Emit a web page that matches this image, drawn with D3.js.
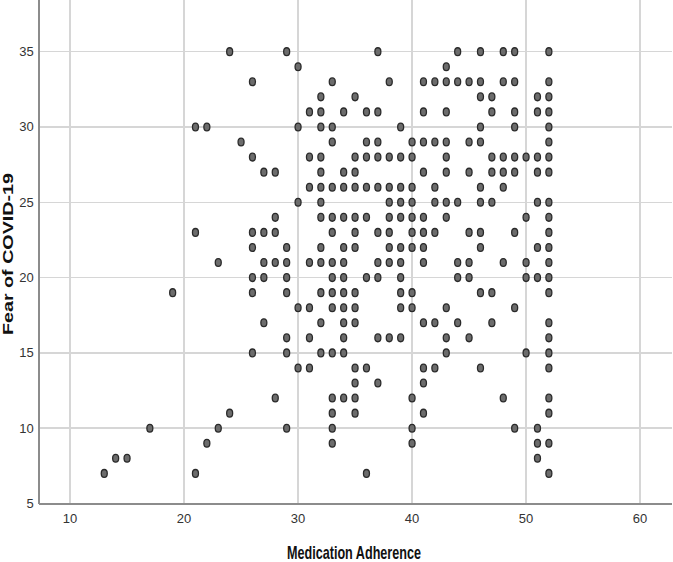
<!DOCTYPE html>
<head>
  <meta charset="utf-8">
  <script src="https://cdn.jsdelivr.net/npm/d3@7"></script>
  <style>
    body {
      margin: 0;
      background: #ffffff;
    }

    text {
      font-family: "Liberation Sans Narrow", "Arial Narrow", "Liberation Sans", sans-serif;
      fill: #333333;
    }

    text.tickLabel {
      font-size: 13px;
    }

    text.axisTitle {
      font-family: "Liberation Sans", Arial, sans-serif;
      font-weight: 700;
      fill: #111111;
    }

    line.grid {
      stroke: #d6d6d6;
      stroke-width: 1.5;
      shape-rendering: crispEdges;
    }

    line.axisLine {
      stroke: #8c8c8c;
      stroke-width: 2;
      shape-rendering: crispEdges;
    }

    ellipse.dot {
      fill: #6c6c6c;
      stroke: #2a2a2a;
      stroke-width: 1.3;
    }
  </style>
</head>

<body>
  <svg width="673" height="562"></svg>
  <script>
    // tick labels of both axes
    const xTicks = [10, 20, 30, 40, 50, 60];
    const yTicks = [5, 10, 15, 20, 25, 30, 35];

    // fear of covid-19 scores, one row per score
    const fearScores = [35, 34, 33, 32, 31, 30, 29, 28, 27, 26, 25, 24, 23, 22,
      21, 20, 19, 18, 17, 16, 15, 14, 13, 12, 11, 10, 9, 8, 7];

    // medication adherence scores seen at each fear score (same order as above)
    const adherenceRows = [
      [24, 29, 37, 44, 46, 48, 49, 52],
      [30, 43],
      [26, 33, 38, 41, 42, 43, 44, 45, 46, 48, 49, 52],
      [32, 35, 46, 47, 51, 52],
      [31, 32, 34, 36, 37, 41, 43, 47, 49, 51, 52],
      [21, 22, 30, 32, 33, 39, 46, 49, 52],
      [25, 33, 36, 37, 40, 41, 42, 43, 45, 46, 52],
      [26, 31, 32, 35, 36, 37, 38, 39, 40, 43, 47, 48, 49, 50, 51, 52],
      [27, 28, 32, 34, 35, 41, 43, 45, 47, 48, 49, 51, 52],
      [31, 32, 33, 34, 35, 36, 37, 38, 39, 40, 42, 46, 48],
      [30, 32, 38, 39, 40, 42, 43, 44, 46, 47, 51, 52],
      [28, 32, 33, 34, 35, 36, 38, 39, 40, 41, 43, 50, 52],
      [21, 26, 27, 28, 33, 35, 37, 38, 40, 41, 42, 45, 46, 49, 52],
      [26, 29, 32, 34, 35, 38, 39, 40, 41, 46, 51, 52],
      [23, 27, 28, 29, 31, 32, 33, 34, 37, 38, 39, 41, 44, 45, 48, 50, 52],
      [26, 27, 29, 33, 34, 36, 37, 39, 44, 45, 50, 51, 52],
      [19, 26, 29, 32, 33, 34, 35, 39, 40, 46, 47, 52],
      [30, 31, 33, 34, 35, 39, 40, 43, 49],
      [27, 32, 34, 35, 41, 42, 44, 47, 52],
      [29, 31, 34, 37, 38, 39, 43, 45, 52],
      [26, 29, 32, 33, 34, 43, 50, 52],
      [30, 31, 35, 36, 41, 42, 46, 52],
      [35, 37, 41],
      [28, 33, 34, 35, 40, 48, 52],
      [24, 33, 35, 41, 52],
      [17, 23, 29, 33, 40, 49, 51],
      [22, 33, 40, 51, 52],
      [14, 15, 51],
      [13, 21, 36, 52]
    ];

    // flatten into points
    let data = [];
    fearScores.forEach((f, i) => {
      adherenceRows[i].forEach(a => data.push({ adherence: a, fear: f }));
    });

    const svg = d3.select("svg");

    // plot area
    const plot = { left: 38.7, right: 672, top: 0, bottom: 503.5 };

    let x = d3.scaleLinear()
      .domain([7.25, 62.8])
      .range([plot.left, plot.right]);

    let y = d3.scaleLinear()
      .domain([5, 38.43])
      .range([plot.bottom, plot.top]);

    // vertical grid lines
    svg.selectAll('line.vgrid')
      .data(xTicks)
      .enter()
      .append('line')
      .attr('class', 'grid vgrid')
      .attr('x1', d => x(d))
      .attr('x2', d => x(d))
      .attr('y1', plot.top)
      .attr('y2', plot.bottom);

    // horizontal grid lines (5 sits on the axis)
    svg.selectAll('line.hgrid')
      .data(yTicks.filter(d => d > 5))
      .enter()
      .append('line')
      .attr('class', 'grid hgrid')
      .attr('x1', plot.left)
      .attr('x2', plot.right)
      .attr('y1', d => y(d))
      .attr('y2', d => y(d));

    // axis lines
    svg.append('line')
      .attr('class', 'axisLine')
      .attr('x1', plot.left)
      .attr('x2', plot.left)
      .attr('y1', plot.top)
      .attr('y2', plot.bottom);

    svg.append('line')
      .attr('class', 'axisLine')
      .attr('x1', plot.left)
      .attr('x2', plot.right)
      .attr('y1', plot.bottom)
      .attr('y2', plot.bottom);

    // tick labels
    svg.selectAll('text.xTick')
      .data(xTicks)
      .enter()
      .append('text')
      .attr('class', 'tickLabel xTick')
      .attr('x', d => x(d))
      .attr('y', plot.bottom + 19)
      .style('text-anchor', 'middle')
      .text(d => d);

    svg.selectAll('text.yTick')
      .data(yTicks)
      .enter()
      .append('text')
      .attr('class', 'tickLabel yTick')
      .attr('x', plot.left - 5)
      .attr('y', d => y(d) + 4.5)
      .style('text-anchor', 'end')
      .text(d => d);

    // the points
    svg.selectAll('ellipse.dot')
      .data(data)
      .enter()
      .append('ellipse')
      .attr('class', 'dot')
      .attr('cx', d => x(d.adherence))
      .attr('cy', d => y(d.fear))
      .attr('rx', 3)
      .attr('ry', 3.9);

    // axis titles
    svg.append('text')
      .attr('class', 'axisTitle')
      .attr('x', 354)
      .attr('y', 559)
      .style('text-anchor', 'middle')
      .style('font-size', '19px')
      .attr('textLength', 134)
      .attr('lengthAdjust', 'spacingAndGlyphs')
      .text('Medication Adherence');

    svg.append('text')
      .attr('class', 'axisTitle')
      .attr('transform', 'translate(13, 254) rotate(-90)')
      .style('text-anchor', 'middle')
      .style('font-size', '14px')
      .attr('textLength', 162)
      .attr('lengthAdjust', 'spacingAndGlyphs')
      .text('Fear of COVID-19');
  </script>
</body>
